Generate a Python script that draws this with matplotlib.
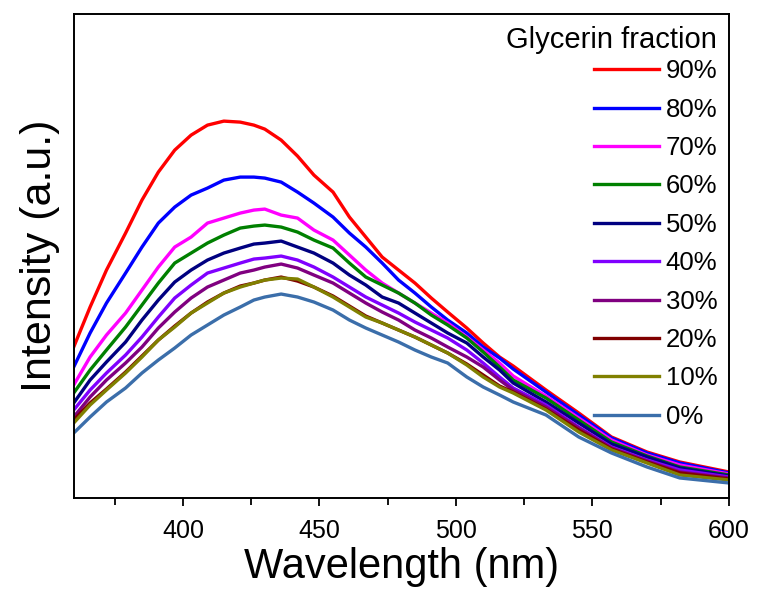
import matplotlib
matplotlib.use("Agg")
import matplotlib.pyplot as plt
from matplotlib.ticker import MultipleLocator

plt.rcParams['font.family'] = ['Liberation Sans', 'DejaVu Sans']

# wavelength (nm) and intensity (a.u.)
wavelength = [360, 366, 372, 379, 385, 391, 397, 403, 409, 415, 421, 426, 430, 436, 442, 448, 455,
              461, 467, 473, 479, 485, 491, 497, 504, 510, 516, 521, 533, 545, 557, 570, 582, 600]

i90 = [151, 191, 228, 265, 298, 326, 348, 363, 373, 377, 376, 373, 369, 358, 342, 323, 306,
       281, 261, 241, 228, 215, 200, 186, 170, 155, 141, 132, 108, 85, 61, 46, 36, 26]
i80 = [131, 165, 195, 225, 251, 275, 291, 303, 310, 318, 321, 321, 320, 316, 306, 295, 281,
       265, 251, 235, 218, 205, 191, 178, 165, 151, 140, 129, 106, 83, 60, 45, 35, 25]
i70 = [113, 141, 163, 185, 208, 231, 251, 261, 275, 280, 285, 288, 289, 283, 280, 268, 258,
       243, 228, 215, 205, 195, 185, 175, 161, 148, 135, 122, 102, 80, 58, 43, 33, 24]
i60 = [105, 128, 148, 171, 193, 215, 235, 245, 255, 263, 270, 272, 273, 271, 266, 258, 250,
       235, 221, 213, 205, 195, 183, 173, 160, 146, 131, 118, 100, 78, 56, 42, 31, 23]
i50 = [95, 118, 136, 156, 178, 198, 216, 228, 238, 245, 250, 254, 255, 257, 251, 245, 235,
       223, 213, 201, 195, 185, 175, 165, 155, 141, 128, 115, 96, 75, 54, 41, 30, 22]
i40 = [88, 108, 125, 143, 161, 181, 200, 213, 225, 230, 235, 239, 240, 242, 238, 231, 221,
       211, 201, 193, 185, 176, 168, 160, 148, 135, 121, 110, 93, 71, 51, 38, 28, 21]
i30 = [81, 101, 118, 135, 151, 170, 186, 200, 211, 218, 225, 228, 231, 234, 230, 223, 215,
       205, 195, 186, 178, 168, 160, 151, 141, 131, 118, 108, 91, 70, 50, 37, 26, 20]
i20 = [78, 95, 109, 126, 142, 158, 172, 185, 196, 205, 212, 215, 218, 221, 217, 211, 202,
       192, 182, 175, 168, 161, 153, 145, 134, 123, 112, 106, 89, 68, 49, 36, 25, 19]
i10 = [75, 93, 108, 125, 141, 158, 171, 185, 195, 205, 211, 215, 218, 220, 219, 211, 201,
       191, 181, 175, 168, 161, 153, 145, 133, 121, 111, 105, 88, 66, 48, 35, 23, 18]
i00 = [65, 81, 96, 110, 125, 138, 150, 163, 173, 183, 191, 198, 201, 204, 201, 196, 188,
       178, 170, 163, 156, 148, 141, 135, 121, 111, 103, 96, 83, 61, 45, 31, 20, 15]

labels = ['90%', '80%', '70%', '60%', '50%', '40%', '30%', '20%', '10%', '0%']
series = [i90, i80, i70, i60, i50, i40, i30, i20, i10, i00]
colors = ['#FF0000', '#0000FF', '#FF00FF', '#008000', '#000080',
          '#8000FF', '#800080', '#800000', '#808000', '#3B6EAA']

fig = plt.figure(figsize=(7.6, 5.9), dpi=100)
ax = fig.add_axes([0.097, 0.156, 0.862, 0.820])

for y, c, lab in zip(series, colors, labels):
    ax.plot(wavelength, y, color=c, lw=2.4, label=lab)

ax.set_xlim(360, 600)
ax.set_ylim(0, 484)
ax.xaxis.set_major_locator(MultipleLocator(50))
ax.xaxis.set_minor_locator(MultipleLocator(25))
ax.tick_params(axis='x', which='both', direction='out', labelsize=18, width=1.3, pad=9)
ax.tick_params(axis='x', which='major', length=6)
ax.tick_params(axis='x', which='minor', length=5)
ax.set_yticks([])
for s in ax.spines.values():
    s.set_linewidth(1.4)

ax.set_xlabel('Wavelength (nm)', fontsize=30, labelpad=3)
ax.set_ylabel('Intensity (a.u.)', fontsize=31, labelpad=10)

leg = ax.legend(title='Glycerin fraction', loc='upper right', frameon=False,
                fontsize=18.5, title_fontsize=21, alignment='right',
                handlelength=2.55, handletextpad=0.25, labelspacing=0.56,
                borderaxespad=0.25, borderpad=0.2)
leg._legend_box.sep = 4

fig.savefig('out.png', dpi=100)
